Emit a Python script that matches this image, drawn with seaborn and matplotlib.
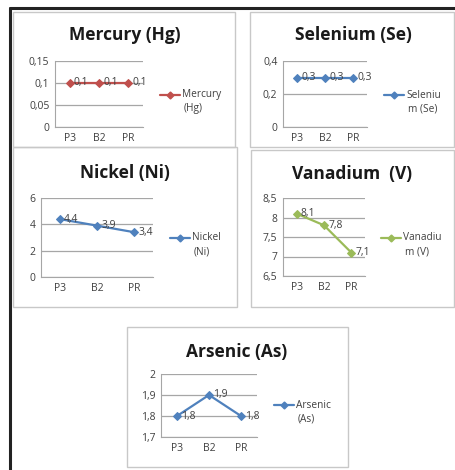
import matplotlib
matplotlib.use('Agg')
import matplotlib.pyplot as plt
import seaborn as sns
import pandas as pd
from matplotlib.patches import Rectangle
from matplotlib.ticker import FuncFormatter
from matplotlib.lines import Line2D

sns.set_style('white')
plt.rcParams['font.family'] = ['Open Sans', 'DejaVu Sans']

# data
sites = ['P3', 'B2', 'PR']
mercury = [0.1, 0.1, 0.1]
selenium = [0.3, 0.3, 0.3]
nickel = [4.4, 3.9, 3.4]
vanadium = [8.1, 7.8, 7.1]
arsenic = [1.8, 1.9, 1.8]

W, H = 455, 470
fig = plt.figure(figsize=(W / 100, H / 100), dpi=100)
fig.patch.set_facecolor('white')


def px_axes(l, t, r, b):
    return fig.add_axes([l / W, (H - b) / H, (r - l) / W, (b - t) / H])


def panel(l, t, r, b):
    fig.patches.append(Rectangle((l / W, (H - b) / H), (r - l) / W, (b - t) / H,
                                 transform=fig.transFigure, fill=False,
                                 edgecolor='#c8c8c8', linewidth=1.0, zorder=0))


def comma(v, pos=None):
    s = ('%.2f' % v).rstrip('0').rstrip('.')
    return s.replace('.', ',')


# outer black frame (left + top)
fig.add_artist(Line2D([10 / W, 10 / W], [0, (H - 8) / H], transform=fig.transFigure,
                      color='#222222', linewidth=2.2))
fig.add_artist(Line2D([10 / W, 1], [(H - 8) / H, (H - 8) / H], transform=fig.transFigure,
                      color='#222222', linewidth=2.2))

# chart panels
panel(13, 12, 235, 147)
panel(250, 12, 454, 147)
panel(13, 147, 237, 307)
panel(251, 150, 454, 307)
panel(127, 327, 348, 467)

charts = [
    # title, values, legend label, colour, plot box, ticks, title pos, legend pos
    ('Mercury (Hg)', mercury, ['Mercury', '(Hg)'], '#c0504d', (55, 61, 143, 127),
     [0, 0.05, 0.1, 0.15], (125, 35), (160, 95)),
    ('Selenium (Se)', selenium, ['Seleniu', 'm (Se)'], '#4f81bd', (283, 61, 367, 127),
     [0, 0.2, 0.4], (353, 35), (384, 95)),
    ('Nickel (Ni)', nickel, ['Nickel', '(Ni)'], '#4f81bd', (41, 198, 153, 277),
     [0, 2, 4, 6], (125, 173), (170, 238)),
    ('Vanadium  (V)', vanadium, ['Vanadiu', 'm (V)'], '#9bbb59', (283, 198, 365, 276),
     [6.5, 7, 7.5, 8, 8.5], (352, 174), (381, 238)),
    ('Arsenic (As)', arsenic, ['Arsenic', '(As)'], '#4f81bd', (161, 374, 257, 437),
     [1.7, 1.8, 1.9, 2], (237, 352), (274, 405)),
]

for title, vals, lab, col, box, ticks, tpos, lpos in charts:
    ax = px_axes(*box)
    df = pd.DataFrame({'site': sites, 'value': vals})
    sns.lineplot(data=df, x='site', y='value', ax=ax, color=col, marker='D',
                 markersize=4, markeredgecolor=col, linewidth=1.6, sort=False)
    ax.set_xlim(-0.5, 2.5)
    ax.set_ylim(ticks[0], ticks[-1])
    ax.set_yticks(ticks)
    ax.yaxis.set_major_formatter(FuncFormatter(comma))
    ax.set_xlabel('')
    ax.set_ylabel('')
    ax.grid(axis='y', color='#a6a6a6', linewidth=0.9)
    ax.set_axisbelow(True)
    for sp in ['top', 'right']:
        ax.spines[sp].set_visible(False)
    ax.spines['left'].set_color('#a6a6a6')
    ax.spines['bottom'].set_color('#a6a6a6')
    ax.tick_params(axis='both', length=0, labelsize=7.5, colors='#404040', pad=4)
    for i, v in enumerate(vals):
        ax.annotate(comma(v), (i, v), xytext=(3, 0), textcoords='offset points',
                    va='center', ha='left', fontsize=7.5, color='#404040')
    fig.text(tpos[0] / W, (H - tpos[1]) / H, title, ha='center', va='center',
             fontsize=12.5, fontweight='bold', color='#1a1a1a')
    lx, ly = lpos
    fig.add_artist(Line2D([lx / W, (lx + 20) / W], [(H - ly) / H, (H - ly) / H],
                          transform=fig.transFigure, color=col, linewidth=1.6))
    fig.add_artist(Line2D([(lx + 10) / W], [(H - ly) / H], transform=fig.transFigure,
                          color=col, marker='D', markersize=3.5, linestyle='none'))
    fig.text((lx + 22) / W, (H - ly) / H, lab[0], ha='left', va='center',
             fontsize=7.3, color='#404040')
    fig.text((lx + 24) / W, (H - ly - 14) / H, lab[1], ha='left', va='center',
             fontsize=7.3, color='#404040')

fig.savefig('out.png', dpi=100, facecolor='white')
